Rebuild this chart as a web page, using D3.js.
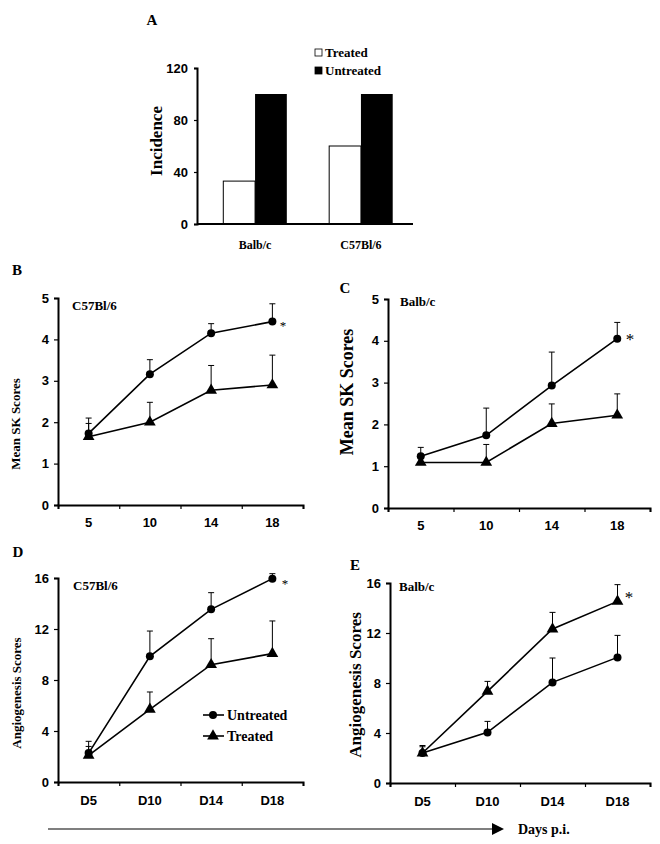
<!DOCTYPE html>
<html>
<head>
<meta charset="utf-8">
<script src="https://cdn.jsdelivr.net/npm/d3@7"></script>
<style>
  body { margin: 0; background: #fff; }
  svg { font-family: "Liberation Serif", "Times New Roman", serif; font-weight: bold; }
</style>
</head>
<body>
<svg id="fig" width="660" height="844"></svg>
<script>
// Panel A - incidence
const incCategories = ["Balb/c", "C57Bl/6"];
const incTreated = [33, 60];
const incUntreated = [100, 100];
const incTicks = [0, 40, 80, 120];

// Panels B, C - mean SK scores
const skDays = ["5", "10", "14", "18"];
const skTicks = [0, 1, 2, 3, 4, 5];
const skC57Untreated = [1.73, 3.16, 4.15, 4.43];
const skC57UntreatedErr = [0.37, 0.35, 0.23, 0.43];
const skC57Treated = [1.65, 2.0, 2.77, 2.9];
const skC57TreatedErr = [0.32, 0.48, 0.6, 0.72];
const skBalbUntreated = [1.24, 1.74, 2.93, 4.05];
const skBalbUntreatedErr = [0.21, 0.65, 0.8, 0.39];
const skBalbTreated = [1.09, 1.09, 2.02, 2.22];
const skBalbTreatedErr = [0.15, 0.43, 0.47, 0.51];

// Panels D, E - angiogenesis scores
const angDays = ["D5", "D10", "D14", "D18"];
const angTicks = [0, 4, 8, 12, 16];
const angC57Untreated = [2.27, 9.86, 13.54, 15.95];
const angC57UntreatedErr = [0.92, 1.98, 1.31, 0.39];
const angC57Treated = [2.09, 5.7, 9.2, 10.07];
const angC57TreatedErr = [0.7, 1.36, 2.04, 2.56];
const angBalbUntreated = [2.4, 4.05, 8.05, 10.05];
const angBalbUntreatedErr = [0.6, 0.88, 1.95, 1.76];
const angBalbTreated = [2.4, 7.33, 12.32, 14.53];
const angBalbTreatedErr = [0.5, 0.8, 1.33, 1.34];

const svg = d3.select("#fig");
const triangle = d3.symbol().type(d3.symbolTriangle).size(60);

function styleAxis(g, size) {
    g.select(".domain").attr("stroke-width", 2);
    g.selectAll(".tick line").attr("stroke-width", 1.2);
    g.selectAll("text").attr("font-size", size).attr("font-family", null);
}

// ---- Panel A ----
(function () {
    const x = d3.scaleBand().domain(incCategories).range([200, 416]).paddingInner(0.4).paddingOuter(0.22);
    const y = d3.scaleLinear().domain([0, 120]).range([224, 68]);

    svg.append("text").attr("x", 152).attr("y", 25).attr("text-anchor", "middle")
        .attr("font-size", 15).text("A");

    const yAx = svg.append("g").attr("transform", "translate(197,0)")
        .call(d3.axisLeft(y).tickValues(incTicks).tickSize(3).tickPadding(6));
    styleAxis(yAx, 13);

    // bars
    const half = x.bandwidth() / 2;
    svg.selectAll(".barT").data(incCategories).enter().append("rect")
        .attr("x", d => x(d)).attr("width", half)
        .attr("y", (d, i) => y(incTreated[i])).attr("height", (d, i) => y(0) - y(incTreated[i]))
        .attr("fill", "#fff").attr("stroke", "#000").attr("stroke-width", 1);
    svg.selectAll(".barU").data(incCategories).enter().append("rect")
        .attr("x", d => x(d) + half).attr("width", half)
        .attr("y", (d, i) => y(incUntreated[i])).attr("height", (d, i) => y(0) - y(incUntreated[i]))
        .attr("fill", "#000");

    svg.append("line").attr("x1", 197).attr("x2", 413).attr("y1", 224).attr("y2", 224)
        .attr("stroke", "#000").attr("stroke-width", 2);

    svg.selectAll(".catLab").data(incCategories).enter().append("text")
        .attr("x", d => x(d) + x.bandwidth() / 2).attr("y", 249)
        .attr("text-anchor", "middle").attr("font-size", 12).text(d => d);

    svg.append("text").attr("transform", "translate(162,141) rotate(-90)")
        .attr("text-anchor", "middle").attr("font-size", 17).text("Incidence");

    // legend
    const leg = [["Treated", "#fff"], ["Untreated", "#000"]];
    leg.forEach((l, i) => {
        svg.append("rect").attr("x", 315).attr("y", 49 + i * 18).attr("width", 7).attr("height", 7)
            .attr("fill", l[1]).attr("stroke", "#000").attr("stroke-width", 0.8);
        svg.append("text").attr("x", 325).attr("y", 57 + i * 18).attr("font-size", 13).text(l[0]);
    });
})();

// ---- line panels ----
function linePanel(o) {
    const x = d3.scaleBand().domain(o.days).range([o.x0, o.x1]);
    const y = d3.scaleLinear().domain([0, o.ymax]).range([o.yb, o.yt]);
    const bound = d3.scaleLinear().domain([0, o.days.length]).range([o.x0, o.x1]);
    const cx = d => x(d) + x.bandwidth() / 2;

    svg.append("text").attr("x", o.letter[0]).attr("y", o.letter[1] + 5)
        .attr("text-anchor", "middle").attr("font-size", 15).text(o.letterText);

    const yAx = svg.append("g").attr("transform", `translate(${o.x0},0)`)
        .call(d3.axisLeft(y).tickValues(o.ticks).tickFormat(d3.format("d")).tickSize(4).tickPadding(5));
    styleAxis(yAx, 13);

    const xt = svg.append("g").attr("transform", `translate(0,${o.yb})`)
        .call(d3.axisBottom(bound).tickValues(d3.range(o.days.length + 1)).tickFormat("").tickSize(4));
    styleAxis(xt, 13);
    const xl = svg.append("g").attr("transform", `translate(0,${o.yb})`)
        .call(d3.axisBottom(x).tickSize(0).tickPadding(o.labPad));
    xl.select(".domain").remove();
    styleAxis(xl, 13);

    svg.append("text").attr("transform", `translate(${o.ylab[0]},${o.ylab[1]}) rotate(-90)`)
        .attr("text-anchor", "middle").attr("font-size", o.ylabSize).text(o.ylabText);

    svg.append("text").attr("x", o.strain[0]).attr("y", o.strain[1])
        .attr("font-size", 13).text(o.strainText);

    const line = d3.line().x(d => cx(d.day)).y(d => y(d.v));
    o.series.forEach(s => {
        const pts = o.days.map((d, i) => ({ day: d, v: s.values[i], e: s.err[i] }));
        // error bars
        svg.selectAll(null).data(pts).enter().append("path")
            .attr("d", d => `M${cx(d.day)},${y(d.v)}V${y(d.v + d.e)}M${cx(d.day) - 3},${y(d.v + d.e)}h6`)
            .attr("stroke", "#000").attr("stroke-width", 1).attr("fill", "none");
        svg.append("path").datum(pts).attr("d", line)
            .attr("stroke", "#000").attr("stroke-width", 1.6).attr("fill", "none");
        if (s.shape === "circle") {
            svg.selectAll(null).data(pts).enter().append("circle")
                .attr("cx", d => cx(d.day)).attr("cy", d => y(d.v)).attr("r", 4).attr("fill", "#000");
        } else {
            svg.selectAll(null).data(pts).enter().append("path")
                .attr("d", triangle).attr("transform", d => `translate(${cx(d.day)},${y(d.v)})`)
                .attr("fill", "#000");
        }
    });

    svg.append("text").attr("x", o.star[0]).attr("y", o.star[1])
        .attr("text-anchor", "middle").attr("font-size", o.starSize).attr("font-weight", "normal").text("*");
}

linePanel({
    days: skDays, ticks: skTicks, ymax: 5, x0: 58, x1: 303, yt: 298, yb: 505, labPad: 13,
    letter: [17, 270], letterText: "B",
    ylab: [20, 424], ylabSize: 13, ylabText: "Mean SK Scores",
    strain: [72, 310], strainText: "C57Bl/6",
    star: [283, 330], starSize: 13,
    series: [
        { values: skC57Untreated, err: skC57UntreatedErr, shape: "circle" },
        { values: skC57Treated, err: skC57TreatedErr, shape: "triangle" }
    ]
});

linePanel({
    days: skDays, ticks: skTicks, ymax: 5, x0: 388, x1: 650, yt: 299, yb: 508, labPad: 13,
    letter: [345, 288], letterText: "C",
    ylab: [353, 392], ylabSize: 18, ylabText: "Mean SK Scores",
    strain: [400, 306], strainText: "Balb/c",
    star: [630, 345], starSize: 17,
    series: [
        { values: skBalbUntreated, err: skBalbUntreatedErr, shape: "circle" },
        { values: skBalbTreated, err: skBalbTreatedErr, shape: "triangle" }
    ]
});

linePanel({
    days: angDays, ticks: angTicks, ymax: 16, x0: 58, x1: 303, yt: 578, yb: 782, labPad: 14,
    letter: [18, 552], letterText: "D",
    ylab: [21, 693], ylabSize: 13, ylabText: "Angiogenesis Scores",
    strain: [73, 590], strainText: "C57Bl/6",
    star: [285, 588], starSize: 13,
    series: [
        { values: angC57Untreated, err: angC57UntreatedErr, shape: "circle" },
        { values: angC57Treated, err: angC57TreatedErr, shape: "triangle" }
    ]
});

linePanel({
    days: angDays, ticks: angTicks, ymax: 16, x0: 390, x1: 650, yt: 583, yb: 783, labPad: 14,
    letter: [355, 565], letterText: "E",
    ylab: [361, 685], ylabSize: 17, ylabText: "Angiogenesis Scores",
    strain: [399, 591], strainText: "Balb/c",
    star: [629, 603], starSize: 17,
    series: [
        { values: angBalbUntreated, err: angBalbUntreatedErr, shape: "circle" },
        { values: angBalbTreated, err: angBalbTreatedErr, shape: "triangle" }
    ]
});

// legend in panel D
[["Untreated", "circle"], ["Treated", "triangle"]].forEach((l, i) => {
    const ly = 715 + i * 21;
    svg.append("line").attr("x1", 203).attr("x2", 224).attr("y1", ly).attr("y2", ly)
        .attr("stroke", "#000").attr("stroke-width", 1.6);
    if (l[1] === "circle") {
        svg.append("circle").attr("cx", 213).attr("cy", ly).attr("r", 4).attr("fill", "#000");
    } else {
        svg.append("path").attr("d", triangle).attr("transform", `translate(213,${ly})`).attr("fill", "#000");
    }
    svg.append("text").attr("x", 227).attr("y", ly + 5).attr("font-size", 14).text(l[0]);
});

// time arrow
svg.append("line").attr("x1", 48).attr("x2", 494).attr("y1", 829).attr("y2", 829)
    .attr("stroke", "#000").attr("stroke-width", 1.2);
svg.append("path").attr("d", "M492,823L504,829L492,835Z").attr("fill", "#000");
svg.append("text").attr("x", 518).attr("y", 834).attr("font-size", 14).text("Days p.i.");
</script>
</body>
</html>
